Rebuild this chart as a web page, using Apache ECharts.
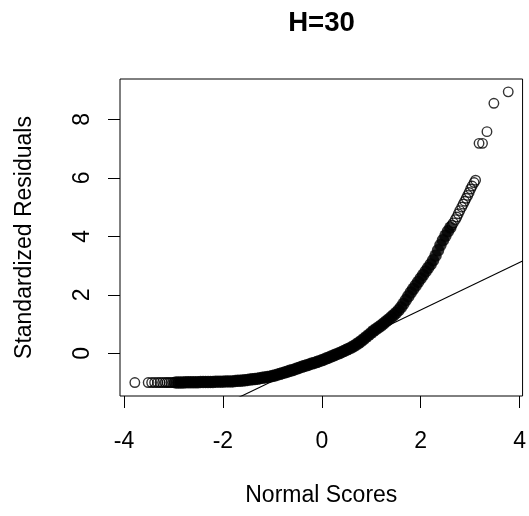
<!DOCTYPE html>
<html><head><meta charset="utf-8">
<script src="https://cdn.jsdelivr.net/npm/echarts@6/dist/echarts.min.js"></script>
<style>html,body{margin:0;padding:0;background:#fff}#c{width:529px;height:516px}</style>
</head><body><div id="c"></div>
<script>
const titleText = 'H=30';
const xName = 'Normal Scores';
const yName = 'Standardized Residuals';
const xTicks = [-4, -2, 0, 2, 4];
const yTicks = [0, 2, 4, 6, 8];
const xLimits = [-4.08, 4.06];
const yLimits = [-1.46, 9.38];

// dense part of the Q-Q band (points overlap into a solid band)
const bandX = [
  -2.95,-2.90,-2.85,-2.80,-2.75,-2.70,-2.65,-2.60,-2.55,-2.50,-2.45,-2.40,-2.35,-2.30,-2.25,-2.20,-2.15,-2.10,-2.05,-2.00,
  -1.95,-1.90,-1.85,-1.80,-1.75,-1.70,-1.65,-1.60,-1.55,-1.50,-1.45,-1.40,-1.35,-1.30,-1.25,-1.20,-1.15,-1.10,-1.05,-1.00,
  -0.95,-0.90,-0.85,-0.80,-0.75,-0.70,-0.65,-0.60,-0.55,-0.50,-0.45,-0.40,-0.35,-0.30,-0.25,-0.20,-0.15,-0.10,-0.05,0.00,
  0.05,0.10,0.15,0.20,0.25,0.30,0.35,0.40,0.45,0.50,0.55,0.60,0.65,0.70,0.75,0.80,0.85,0.90,0.95,1.00,
  1.05,1.10,1.15,1.20,1.25,1.30,1.35,1.40,1.45,1.50,1.55,1.60,1.65,1.70,1.75,1.80,1.85,1.90,1.95,2.00,
  2.05,2.10,2.15,2.20,2.25,2.30,2.35,2.40,2.45,2.50,2.55,2.60
];
const bandY = [
  -1.00,-1.00,-1.00,-1.00,-0.99,-0.99,-0.99,-0.99,-0.99,-0.99,-0.98,-0.98,-0.98,-0.98,-0.98,-0.98,-0.97,-0.97,-0.97,-0.97,
  -0.96,-0.96,-0.96,-0.96,-0.95,-0.94,-0.94,-0.93,-0.92,-0.91,-0.90,-0.89,-0.88,-0.87,-0.85,-0.84,-0.83,-0.81,-0.80,-0.78,
  -0.76,-0.73,-0.71,-0.68,-0.66,-0.63,-0.60,-0.58,-0.55,-0.52,-0.49,-0.46,-0.43,-0.41,-0.38,-0.35,-0.33,-0.30,-0.27,-0.24,
  -0.21,-0.17,-0.14,-0.10,-0.07,-0.03,0.00,0.04,0.08,0.12,0.16,0.20,0.25,0.30,0.36,0.42,0.49,0.56,0.63,0.70,
  0.77,0.83,0.89,0.95,1.02,1.09,1.16,1.23,1.30,1.38,1.47,1.57,1.69,1.82,1.95,2.08,2.20,2.32,2.44,2.56,
  2.68,2.80,2.92,3.04,3.18,3.34,3.52,3.70,3.87,4.02,4.17,4.30
];
// sparse tails (individual circles visible)
const leftTailX = [-3.78,-3.51,-3.44,-3.38,-3.32,-3.27,-3.22,-3.17,-3.13,-3.09,-3.05,-3.01,-2.98];
const leftTailY = [-1.00,-1.00,-1.00,-1.00,-1.00,-1.00,-1.00,-1.00,-1.00,-1.00,-1.00,-1.00,-1.00];
const rightTailX = [2.63,2.66,2.70,2.73,2.76,2.79,2.83,2.86,2.89,2.92,2.95,2.98,3.01,3.04,3.08,3.11,3.18,3.25,3.34,3.48,3.77];
const rightTailY = [4.38,4.46,4.57,4.66,4.77,4.88,5.00,5.10,5.20,5.30,5.40,5.50,5.62,5.72,5.84,5.92,7.18,7.18,7.58,8.55,8.94];

// reference (qqline) line
const lineIntercept = -0.143;
const lineSlope = 0.813;

const FONT = 'Liberation Sans, Arial, Helvetica, sans-serif';
const pair = (xs, ys) => xs.map((x, i) => [x, ys[i]]);
const lineData = xLimits.map(x => [x, lineIntercept + lineSlope * x]);

const chart = echarts.init(document.getElementById('c'), null, {renderer: 'canvas'});
chart.setOption({
  animation: false,
  backgroundColor: '#fff',
  title: {
    text: titleText, left: 321.5, top: 9, textAlign: 'center', padding: 0,
    textStyle: {fontFamily: FONT, fontSize: 27.6, fontWeight: 'bold', color: '#000'}
  },
  grid: {
    left: 120, top: 79, right: 6, bottom: 120,
    show: true, borderColor: '#000', borderWidth: 1, backgroundColor: 'transparent'
  },
  xAxis: {
    type: 'value', min: xLimits[0], max: xLimits[1],
    name: xName, nameLocation: 'middle', nameGap: 88,
    nameTextStyle: {fontFamily: FONT, fontSize: 23, color: '#000'},
    axisLine: {show: false, onZero: false},
    splitLine: {show: false},
    axisTick: {show: true, length: 12, customValues: xTicks, lineStyle: {color: '#000', width: 1}},
    axisLabel: {customValues: xTicks, margin: 34, fontFamily: FONT, fontSize: 23, color: '#000',
      formatter: v => String(v)}
  },
  yAxis: {
    type: 'value', min: yLimits[0], max: yLimits[1],
    name: yName, nameLocation: 'middle', nameGap: 84, nameRotate: 90,
    nameTextStyle: {fontFamily: FONT, fontSize: 23, color: '#000'},
    axisLine: {show: false, onZero: false},
    splitLine: {show: false},
    axisTick: {show: true, length: 12, customValues: yTicks, lineStyle: {color: '#000', width: 1}},
    axisLabel: {customValues: yTicks, rotate: 90, margin: 26, fontFamily: FONT, fontSize: 23, color: '#000',
      formatter: v => String(v)}
  },
  series: [
    {
      type: 'line', data: lineData, symbol: 'none', silent: true, clip: true,
      lineStyle: {color: '#000', width: 1.1}, z: 1
    },
    {
      type: 'scatter', data: pair(bandX, bandY), symbol: 'circle', symbolSize: 12.5,
      itemStyle: {color: '#000', borderWidth: 0}, silent: true, z: 2
    },
    {
      type: 'scatter', data: pair(leftTailX, leftTailY).concat(pair(rightTailX, rightTailY)),
      symbol: 'circle', symbolSize: 9.5,
      itemStyle: {color: 'rgba(0,0,0,0)', borderColor: '#000', borderWidth: 1.4}, silent: true, z: 3
    }
  ]
});
</script></body></html>
